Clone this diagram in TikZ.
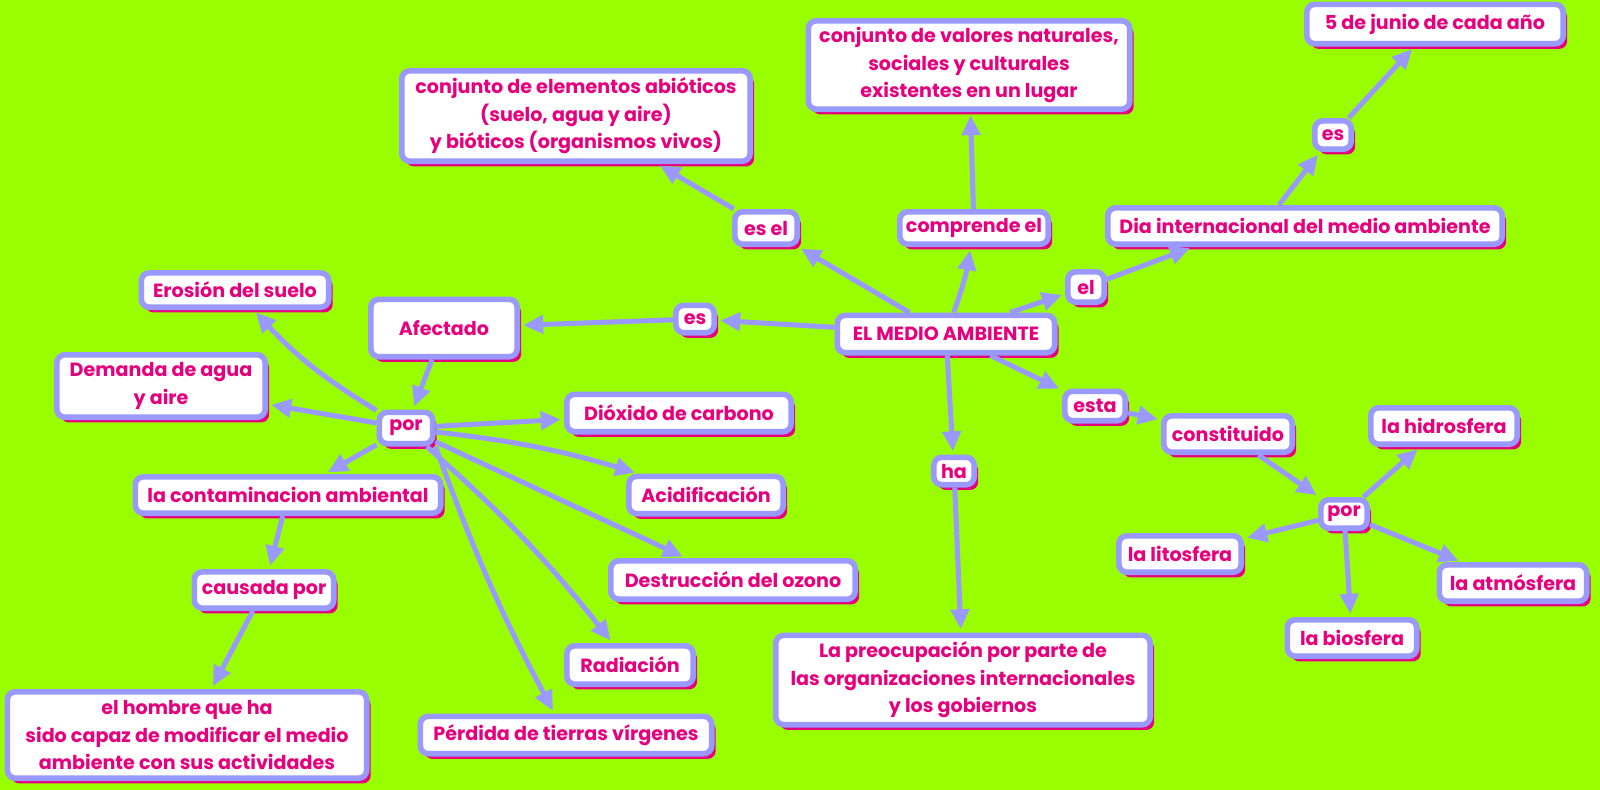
\documentclass[tikz,border=0pt]{standalone}
\usepackage{fontspec}
\setmainfont{Poppins}
\usetikzlibrary{arrows.meta,shadows}
\definecolor{fondo}{HTML}{99FF00}
\definecolor{lila}{HTML}{9999FF}
\definecolor{rosa}{HTML}{E6007E}
\tikzset{
    caja/.style={draw=lila, fill=white, line width=0.14cm, rounded corners=0.2cm,
        text=rosa, align=center, inner sep=0pt,
        font=\bfseries\fontsize{13.6}{19.5}\selectfont,
        drop shadow={shadow xshift=0.1cm, shadow yshift=-0.13cm, fill=rosa, opacity=1}},
    wh/.style 2 args={minimum width=#1*0.025cm-0.14cm, minimum height=#2*0.025cm-0.14cm},
    flecha/.style={draw=lila, line width=0.125cm,
        -{Triangle[length=0.5cm, width=0.45cm]}, shorten >=0.08cm}
}
\begin{document}
\begin{tikzpicture}[x=0.025cm, y=-0.025cm]
    \fill [fondo] (0, 0) rectangle (1600, 790);
    \useasboundingbox (0, 0) rectangle (1600, 790);
    \node [caja, wh={223}{43}] (medio) at (946, 334) {EL MEDIO AMBIENTE};
    \node [caja, wh={68}{38}] (esel) at (766, 228) {es el};
    \node [caja, wh={354}{96}] (abioticos) at (576, 116) {conjunto de elementos abióticos\\(suelo, agua y aire)\\y bióticos (organismos vivos)};
    \node [caja, wh={154}{38}] (comprende) at (974, 228) {comprende el};
    \node [caja, wh={327}{94}] (valores) at (969, 65) {conjunto de valores naturales,\\sociales y culturales\\existentes en un lugar};
    \node [caja, wh={42}{36}] (el) at (1086, 287) {el};
    \node [caja, wh={400}{42}] (dia) at (1305, 226) {Dia internacional del medio ambiente};
    \node [caja, wh={42}{34}] (es2) at (1333, 135) {es};
    \node [caja, wh={262}{45}] (junio) at (1435, 24) {5 de junio de cada año};
    \node [caja, wh={44}{33}] (es) at (695, 319) {es};
    \node [caja, wh={152}{63}] (afectado) at (444, 328) {Afectado};
    \node [caja, wh={59}{37}] (por) at (406, 428) {por};
    \node [caja, wh={193}{40}] (erosion) at (235, 290) {Erosión del suelo};
    \node [caja, wh={214}{68}] (demanda) at (161, 386) {Demanda de agua\\y aire};
    \node [caja, wh={230}{43}] (dioxido) at (679, 413) {Dióxido de carbono};
    \node [caja, wh={311}{42}] (contaminacion) at (288, 495) {la contaminacion ambiental};
    \node [caja, wh={160}{43}] (acidificacion) at (706, 495) {Acidificación};
    \node [caja, wh={250}{44}] (destruccion) at (733, 580) {Destrucción del ozono};
    \node [caja, wh={145}{42}] (causada) at (264, 590) {causada por};
    \node [caja, wh={132}{44}] (radiacion) at (630, 665) {Radiación};
    \node [caja, wh={365}{92}] (hombre) at (187, 735) {el hombre que ha\\sido capaz de modificar el medio\\ambiente con sus actividades};
    \node [caja, wh={297}{43}] (perdida) at (566, 735) {Pérdida de tierras vírgenes};
    \node [caja, wh={46}{33}] (ha) at (954, 471) {ha};
    \node [caja, wh={380}{95}] (preocupacion) at (963, 680) {La preocupación por parte de\\las organizaciones internacionales\\y los gobiernos};
    \node [caja, wh={66}{35}] (esta) at (1095, 406) {esta};
    \node [caja, wh={134}{42}] (constituido) at (1228, 434) {constituido};
    \node [caja, wh={52}{34}] (por2) at (1344, 514) {por};
    \node [caja, wh={152}{42}] (hidrosfera) at (1444, 426) {la hidrosfera};
    \node [caja, wh={128}{42}] (litosfera) at (1180, 554) {la litosfera};
    \node [caja, wh={153}{42}] (atmosfera) at (1513, 583) {la atmósfera};
    \node [caja, wh={135}{42}] (biosfera) at (1352, 638) {la biosfera};
    \draw [flecha] (medio) -- (esel);
    \draw [flecha] (esel) -- (abioticos);
    \draw [flecha] (medio) to [bend right=5] (comprende);
    \draw [flecha] (comprende) -- (valores);
    \draw [flecha] (medio) -- (el);
    \draw [flecha] (el) -- ([xshift=2.2cm]dia.south west);
    \draw [flecha] ([xshift=-0.65cm]dia.north) -- (es2);
    \draw [flecha] (es2) -- (junio);
    \draw [flecha] (medio) -- (es);
    \draw [flecha] (es) -- (afectado);
    \draw [flecha] (afectado) -- (por);
    \draw [flecha] (por) to [bend left=8] (erosion);
    \draw [flecha] (por) -- (demanda);
    \draw [flecha] (por) -- (dioxido);
    \draw [flecha] (por) -- (contaminacion);
    \draw [flecha] (por) to [bend left=5] (acidificacion);
    \draw [flecha] (por) -- (destruccion);
    \draw [flecha] (por) to [bend left=5] (radiacion);
    \draw [flecha] (por.south east) to [bend right=4] (perdida);
    \draw [flecha] (contaminacion) -- (causada);
    \draw [flecha] (causada) -- (hombre);
    \draw [flecha] (medio) -- (ha);
    \draw [flecha] (ha) -- (preocupacion);
    \draw [flecha] (medio) -- (esta);
    \draw [flecha] (esta) -- (constituido);
    \draw [flecha] (constituido) -- (por2);
    \draw [flecha] (por2) -- (hidrosfera);
    \draw [flecha] (por2) -- (litosfera);
    \draw [flecha] (por2) -- (atmosfera);
    \draw [flecha] (por2) -- (biosfera);
\end{tikzpicture}
\end{document}
